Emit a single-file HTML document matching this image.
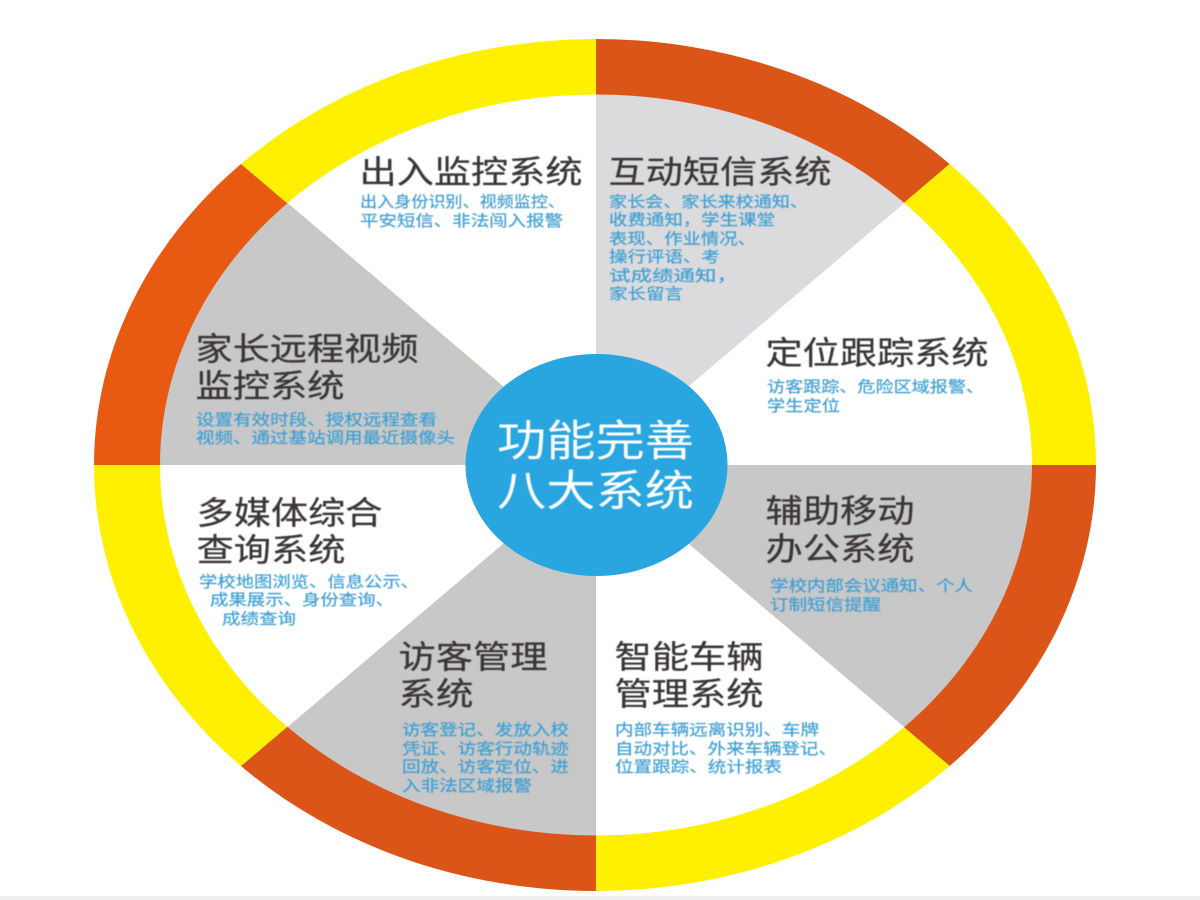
<!DOCTYPE html>
<html lang="zh">
<head>
<meta charset="utf-8">
<title>功能完善 八大系统</title>
<style>
html,body{margin:0;padding:0;background:#fff;width:1200px;height:900px;overflow:hidden}
svg{display:block}
text{font-family:"Liberation Sans","Noto Sans CJK SC",sans-serif}
.t{font-size:32px;fill:#3a3536;stroke:#3a3536;stroke-width:.25}
.d{font-size:15.5px;fill:#3f9fd4;stroke:#3f9fd4;stroke-width:.2}
.c{font-size:43px;fill:#fff}
</style>
</head>
<body>
<svg width="1200" height="900" viewBox="0 0 1200 900" xmlns="http://www.w3.org/2000/svg">
<defs><filter id="b" x="-5%" y="-20%" width="110%" height="140%"><feGaussianBlur stdDeviation="0.55"/></filter></defs>
<rect width="1200" height="900" fill="#fff"/>
<rect y="896" width="1200" height="4" fill="#eeeeee"/>
<!-- outer ring segments -->
<path d="M596 465V39A500 426 0 0 1 949.6 164Z" fill="#dc5518"/>
<path d="M596 465L949.6 164A500 426 0 0 1 1096 465Z" fill="#fff000"/>
<path d="M596 465H1096A500 426 0 0 1 949.6 766Z" fill="#dc5518"/>
<path d="M596 465L949.6 766A500 426 0 0 1 596 891Z" fill="#fff000"/>
<path d="M596 465V891A502 426 0 0 1 241 766Z" fill="#dc5518"/>
<path d="M596 465L241 766A502 426 0 0 1 94 465Z" fill="#fff000"/>
<path d="M596 465H94A502 426 0 0 1 241 164Z" fill="#e85a12"/>
<path d="M596 465L241 164A502 426 0 0 1 596 39Z" fill="#fff000"/>
<!-- inner wedges -->
<path d="M596 465V94.500A436 370.500 0 0 1 904.300 203Z" fill="#dbdbdd"/>
<path d="M596 465L904.300 203A436 370.500 0 0 1 1032 465Z" fill="#fff"/>
<path d="M596 465H1032A436 370.500 0 0 1 904.300 727Z" fill="#c8c8c8"/>
<path d="M596 465L904.300 727A436 370.500 0 0 1 596 835.500Z" fill="#fff"/>
<path d="M596 465V835.500A436 370.500 0 0 1 287.700 727Z" fill="#c8c8c8"/>
<path d="M596 465L287.700 727A436 370.500 0 0 1 160 465Z" fill="#fff"/>
<path d="M596 465H160A436 370.500 0 0 1 287.700 203Z" fill="#c8c8c8"/>
<path d="M596 465L287.700 203A436 370.500 0 0 1 596 94.500Z" fill="#fff"/>
<!-- centre -->
<ellipse cx="596.500" cy="465" rx="131" ry="111" fill="#29a5e0"/>
<g filter="url(#b)">
<text class="c" x="497" y="456" textLength="197" lengthAdjust="spacingAndGlyphs">功能完善</text>
<text class="c" x="497" y="506" textLength="197" lengthAdjust="spacingAndGlyphs">八大系统</text>

<text class="t" x="359.500" y="183" textLength="223" lengthAdjust="spacingAndGlyphs">出入监控系统</text>
<text class="d" x="360" y="207" textLength="205" lengthAdjust="spacingAndGlyphs">出入身份识别、视频监控、</text>
<text class="d" x="360" y="226" textLength="203" lengthAdjust="spacingAndGlyphs">平安短信、非法闯入报警</text>

<text class="t" x="608.500" y="183" textLength="223" lengthAdjust="spacingAndGlyphs">互动短信系统</text>
<text class="d" x="609" y="207" textLength="199" lengthAdjust="spacingAndGlyphs">家长会、家长来校通知、</text>
<text class="d" x="609" y="225" textLength="166" lengthAdjust="spacingAndGlyphs">收费通知，学生课堂</text>
<text class="d" x="609" y="244" textLength="147" lengthAdjust="spacingAndGlyphs">表现、作业情况、</text>
<text class="d" x="609" y="262" textLength="111" lengthAdjust="spacingAndGlyphs">操行评语、考</text>
<text class="d" x="609" y="281" textLength="129" lengthAdjust="spacingAndGlyphs">试成绩通知，</text>
<text class="d" x="609" y="299" textLength="74" lengthAdjust="spacingAndGlyphs">家长留言</text>

<text class="t" x="765.500" y="364" textLength="223" lengthAdjust="spacingAndGlyphs">定位跟踪系统</text>
<text class="d" x="767" y="392" textLength="217" lengthAdjust="spacingAndGlyphs">访客跟踪、危险区域报警、</text>
<text class="d" x="767" y="411" textLength="73" lengthAdjust="spacingAndGlyphs">学生定位</text>

<text class="t" x="195.500" y="360" textLength="223" lengthAdjust="spacingAndGlyphs">家长远程视频</text>
<text class="t" x="195.500" y="397" textLength="149" lengthAdjust="spacingAndGlyphs">监控系统</text>
<text class="d" x="196" y="425" textLength="241" lengthAdjust="spacingAndGlyphs">设置有效时段、授权远程查看</text>
<text class="d" x="196" y="443" textLength="259" lengthAdjust="spacingAndGlyphs">视频、通过基站调用最近摄像头</text>

<text class="t" x="196.500" y="524" textLength="186" lengthAdjust="spacingAndGlyphs">多媒体综合</text>
<text class="t" x="196.500" y="561" textLength="149" lengthAdjust="spacingAndGlyphs">查询系统</text>
<text class="d" x="199" y="587" textLength="220" lengthAdjust="spacingAndGlyphs">学校地图浏览、信息公示、</text>
<text class="d" x="210" y="605" textLength="184" lengthAdjust="spacingAndGlyphs">成果展示、身份查询、</text>
<text class="d" x="222" y="624" textLength="74" lengthAdjust="spacingAndGlyphs">成绩查询</text>

<text class="t" x="765.500" y="522" textLength="149" lengthAdjust="spacingAndGlyphs">辅助移动</text>
<text class="t" x="765.500" y="560" textLength="149" lengthAdjust="spacingAndGlyphs">办公系统</text>
<text class="d" x="770" y="591" textLength="203" lengthAdjust="spacingAndGlyphs">学校内部会议通知、个人</text>
<text class="d" x="770" y="610" textLength="111" lengthAdjust="spacingAndGlyphs">订制短信提醒</text>

<text class="t" x="398.500" y="668" textLength="149" lengthAdjust="spacingAndGlyphs">访客管理</text>
<text class="t" x="398.500" y="705" textLength="75" lengthAdjust="spacingAndGlyphs">系统</text>
<text class="d" x="402" y="735" textLength="167" lengthAdjust="spacingAndGlyphs">访客登记、发放入校</text>
<text class="d" x="402" y="754" textLength="167" lengthAdjust="spacingAndGlyphs">凭证、访客行动轨迹</text>
<text class="d" x="402" y="772" textLength="167" lengthAdjust="spacingAndGlyphs">回放、访客定位、进</text>
<text class="d" x="402" y="791" textLength="130" lengthAdjust="spacingAndGlyphs">入非法区域报警</text>

<text class="t" x="614.500" y="668" textLength="149" lengthAdjust="spacingAndGlyphs">智能车辆</text>
<text class="t" x="614.500" y="705" textLength="149" lengthAdjust="spacingAndGlyphs">管理系统</text>
<text class="d" x="615" y="735" textLength="204" lengthAdjust="spacingAndGlyphs">内部车辆远离识别、车牌</text>
<text class="d" x="615" y="754" textLength="222" lengthAdjust="spacingAndGlyphs">自动对比、外来车辆登记、</text>
<text class="d" x="615" y="772" textLength="167" lengthAdjust="spacingAndGlyphs">位置跟踪、统计报表</text>
</g>
</svg>
</body>
</html>
